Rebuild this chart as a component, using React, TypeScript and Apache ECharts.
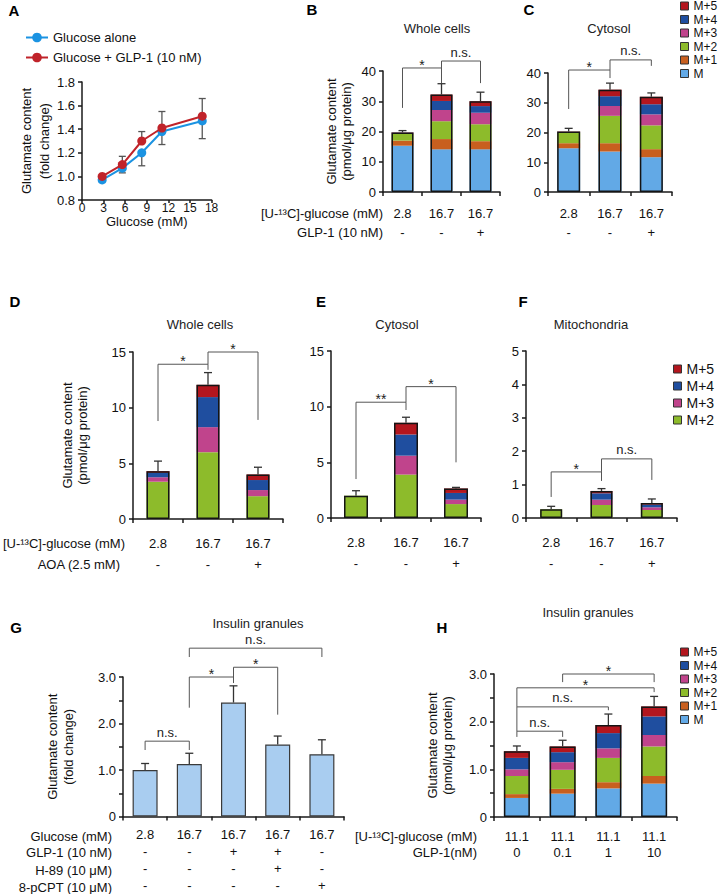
import React, { useEffect, useRef } from 'react';
import * as echarts from 'echarts';

const FONT = '"Liberation Sans", Arial, Helvetica, sans-serif';

const ISO_NAMES = ['M', 'M+1', 'M+2', 'M+3', 'M+4', 'M+5'];
const ISO_COLORS = ['#62a9e6', '#c85f1f', '#8dbb2b', '#c0448c', '#1f4e9f', '#b3161e'];

// ---------- Panel A ----------
const A_GLUCOSE = [2.8, 5.6, 8.3, 11.1, 16.7];
const A_ALONE = [0.97, 1.07, 1.2, 1.38, 1.47];
const A_ALONE_ERR = [0, 0.04, 0.11, 0.11, 0.15];
const A_GLP = [1.0, 1.1, 1.3, 1.41, 1.51];
const A_GLP_ERR = [0, 0.07, 0.08, 0.14, 0.15];

// ---------- Panels B, C ----------
const BC_GLUCOSE = ['2.8', '16.7', '16.7'];
const BC_GLP1 = ['-', '-', '+'];

const B_M = [15.3, 14.1, 14.1];
const B_M1 = [1.7, 3.4, 2.7];
const B_M2 = [2.2, 5.9, 5.6];
const B_M3 = [0.3, 3.7, 3.8];
const B_M4 = [0.1, 3.0, 2.2];
const B_M5 = [0.1, 2.1, 1.6];
const B_ERR = [0.6, 3.6, 3.0];
const B_BRACKETS = [[0, 1, 41.0, 27.8, 36.0, '*'], [1, 2, 43.3, 41.0, 36.0, 'n.s.']];

const C_M = [14.7, 13.6, 11.7];
const C_M1 = [1.7, 2.8, 2.7];
const C_M2 = [3.6, 9.2, 8.0];
const C_M3 = [0.1, 3.3, 3.7];
const C_M4 = [0.1, 3.3, 3.4];
const C_M5 = [0.1, 2.2, 2.5];
const C_ERR = [1.1, 2.2, 1.3];
const C_BRACKETS = [[0, 1, 41.0, 27.9, 38.3, '*'], [1, 2, 44.4, 41.0, 42.4, 'n.s.']];

// ---------- Panels D, E, F ----------
const DEF_GLUCOSE = ['2.8', '16.7', '16.7'];
const DEF_AOA = ['-', '-', '+'];

const D_M2 = [3.35, 6.0, 2.05];
const D_M3 = [0.4, 2.25, 0.55];
const D_M4 = [0.4, 2.7, 0.9];
const D_M5 = [0.15, 1.1, 0.5];
const D_ERR = [0.9, 1.1, 0.65];
const D_BRACKETS = [[0, 1, 13.9, 8.8, 13.4, '*'], [1, 2, 15.0, 13.9, 8.9, '*']];

const E_M2 = [2.0, 3.9, 1.25];
const E_M3 = [0, 1.7, 0.4];
const E_M4 = [0, 1.9, 0.6];
const E_M5 = [0, 1.05, 0.4];
const E_ERR = [0.45, 0.5, 0.1];
const E_BRACKETS = [[0, 1, 10.4, 3.5, 9.7, '**'], [1, 2, 11.8, 10.4, 5.0, '*']];

const F_M2 = [0.26, 0.39, 0.24];
const F_M3 = [0, 0.16, 0.08];
const F_M4 = [0, 0.19, 0.08];
const F_M5 = [0, 0.07, 0.05];
const F_ERR = [0.09, 0.07, 0.12];
const F_BRACKETS = [[0, 1, 1.38, 0.63, 1.11, '*'], [1, 2, 1.77, 1.38, 1.14, 'n.s.']];

// ---------- Panel G ----------
const G_GLUCOSE = ['2.8', '16.7', '16.7', '16.7', '16.7'];
const G_GLP1 = ['-', '-', '+', '+', '-'];
const G_H89 = ['-', '-', '-', '+', '-'];
const G_PCPT = ['-', '-', '-', '-', '+'];
const G_VALUES = [1.0, 1.13, 2.45, 1.55, 1.34];
const G_ERR = [0.14, 0.23, 0.36, 0.18, 0.31];
const G_BRACKETS = [
  [0, 1, 1.62, 1.43, 1.43, 'n.s.'],
  [1, 2, 3.0, 2.34, 2.87, '*'],
  [2, 3, 3.21, 3.0, 2.19, '*'],
  [1, 4, 3.62, 3.43, 3.43, 'n.s.'],
];

// ---------- Panel H ----------
const H_GLUCOSE = ['11.1', '11.1', '11.1', '11.1'];
const H_GLP1 = ['0', '0.1', '1', '10'];
const H_M = [0.40, 0.49, 0.60, 0.70];
const H_M1 = [0.08, 0.10, 0.13, 0.16];
const H_M2 = [0.38, 0.40, 0.51, 0.62];
const H_M3 = [0.14, 0.16, 0.20, 0.24];
const H_M4 = [0.24, 0.21, 0.32, 0.39];
const H_M5 = [0.14, 0.12, 0.17, 0.21];
const H_ERR = [0.11, 0.13, 0.23, 0.21];
const H_BRACKETS = [
  [0, 1, 1.80, 1.68, 1.68, 'n.s.'],
  [0, 2, 2.31, 1.80, 2.24, 'n.s.'],
  [0, 3, 2.71, 2.31, 2.62, '*'],
  [1, 3, 3.0, 2.83, 2.83, '*'],
];

const AXIS = { color: '#1a1a1a', width: 1.5 };
const TXT = '#111';

const zipRows = (...rows: string[][]) => rows[0].map((_, i) => rows.map((r) => r[i]).join('\n'));

const errorRender = (color: string, cap: number) => (params: any, api: any) => {
  const x = api.value(0);
  const y = api.value(1);
  const e = api.value(2);
  if (!e) return null;
  const p0 = api.coord([x, y]);
  const p1 = api.coord([x, y + e]);
  const st = { stroke: color, lineWidth: 1.3 };
  return {
    type: 'group',
    children: [
      { type: 'line', shape: { x1: p0[0], y1: p0[1], x2: p1[0], y2: p1[1] }, style: st },
      { type: 'line', shape: { x1: p1[0] - cap, y1: p1[1], x2: p1[0] + cap, y2: p1[1] }, style: st },
    ],
  };
};

const bracketRender = (labels: string[]) => (params: any, api: any) => {
  const f = api.value(0);
  const t = api.value(1);
  const top = api.value(2);
  const yl = api.value(3);
  const yr = api.value(4);
  const a = api.coord([f, top]);
  const b = api.coord([t, top]);
  const l = api.coord([f, yl]);
  const r = api.coord([t, yr]);
  const label = labels[params.dataIndex];
  const star = label.indexOf('*') >= 0;
  return {
    type: 'group',
    children: [
      {
        type: 'polyline',
        shape: { points: [l, a, b, r] },
        style: { stroke: '#555', lineWidth: 1, fill: 'none' },
      },
      {
        type: 'text',
        x: (a[0] + b[0]) / 2,
        y: a[1] - (star ? 3 : 9),
        style: {
          text: label,
          align: 'center',
          verticalAlign: 'middle',
          fontSize: star ? 14 : 13,
          fontFamily: FONT,
          fill: '#222',
        },
      },
    ],
  };
};

function bracketSeries(gi: number, brackets: any[]) {
  return {
    type: 'custom',
    xAxisIndex: gi,
    yAxisIndex: gi,
    data: brackets.map((b) => b.slice(0, 5)),
    encode: { x: 0, y: 2 },
    renderItem: bracketRender(brackets.map((b) => b[5])),
    silent: true,
    clip: false,
    z: 5,
  };
}

function stackedSeries(gi: number, segs: number[][], isoStart: number, err: number[], brackets: any[], barWidth: number) {
  const n = segs[0].length;
  const totals = Array.from({ length: n }, (_, i) => segs.reduce((s, a) => s + a[i], 0));
  const out: any[] = segs.map((data, k) => ({
    type: 'bar',
    name: ISO_NAMES[isoStart + k],
    xAxisIndex: gi,
    yAxisIndex: gi,
    stack: 'stack' + gi,
    data,
    barWidth,
    barGap: '-100%',
    itemStyle: { color: ISO_COLORS[isoStart + k] },
    silent: true,
    z: 2,
  }));
  out.push({
    type: 'bar',
    xAxisIndex: gi,
    yAxisIndex: gi,
    data: totals,
    barWidth,
    barGap: '-100%',
    itemStyle: { color: 'rgba(0,0,0,0)', borderColor: '#141414', borderWidth: 1.5 },
    silent: true,
    z: 3,
  });
  out.push({
    type: 'custom',
    xAxisIndex: gi,
    yAxisIndex: gi,
    data: totals.map((t, i) => [i, t, err[i]]),
    encode: { x: 0, y: 1 },
    renderItem: errorRender('#333', 4),
    silent: true,
    z: 4,
  });
  out.push(bracketSeries(gi, brackets));
  return out;
}

const catAxis = (gi: number, data: string[], lineHeight: number, margin: number) => ({
  gridIndex: gi,
  type: 'category',
  data,
  axisLine: { show: true, lineStyle: AXIS },
  axisTick: { show: true, length: 4, lineStyle: AXIS },
  axisLabel: { interval: 0, fontSize: 13, color: TXT, lineHeight, margin, fontFamily: FONT },
  splitLine: { show: false },
});

const valAxis = (gi: number, min: number, max: number, interval: number, extra: any = {}) => ({
  gridIndex: gi,
  type: 'value',
  min,
  max,
  interval,
  axisLine: { show: true, lineStyle: AXIS },
  axisTick: { show: true, length: 4, lineStyle: AXIS },
  axisLabel: { fontSize: 13, color: TXT, margin: 7, fontFamily: FONT },
  splitLine: { show: false },
  ...extra,
});

const yName = (name: string, gap: number, lh: number) => ({
  name,
  nameLocation: 'middle',
  nameRotate: 90,
  nameGap: gap,
  nameTextStyle: { fontSize: 13, lineHeight: lh, color: TXT, fontFamily: FONT },
});

const oneDecimal = (v: number) => (v === 0 ? '0' : Math.abs(v - Math.round(v)) < 1e-9 ? v.toFixed(1) : '');

function buildOption() {
  const grids = [
    { left: 82, top: 82, width: 129.6, height: 118 },
    { left: 383, top: 71, width: 117, height: 121 },
    { left: 548, top: 73, width: 124, height: 119 },
    { left: 133, top: 352, width: 150, height: 167 },
    { left: 331, top: 351, width: 150, height: 167 },
    { left: 526, top: 351, width: 151, height: 167 },
    { left: 123, top: 677, width: 221, height: 141 },
    { left: 494, top: 674, width: 183, height: 143 },
  ];

  const xAxis = [
    {
      gridIndex: 0,
      type: 'value',
      min: 0,
      max: 18,
      interval: 3,
      axisLine: { show: true, lineStyle: AXIS },
      axisTick: { show: true, length: 3, lineStyle: AXIS },
      axisLabel: { fontSize: 12, color: TXT, margin: 2, fontFamily: FONT },
      splitLine: { show: false },
      name: 'Glucose (mM)',
      nameLocation: 'middle',
      nameGap: 14,
      nameTextStyle: { fontSize: 13, color: TXT, fontFamily: FONT },
    },
    catAxis(1, zipRows(BC_GLUCOSE, BC_GLP1), 19, 11.5),
    catAxis(2, zipRows(BC_GLUCOSE, BC_GLP1), 19, 11.5),
    catAxis(3, zipRows(DEF_GLUCOSE, DEF_AOA), 21, 13.5),
    catAxis(4, zipRows(DEF_GLUCOSE, DEF_AOA), 21, 13.5),
    catAxis(5, zipRows(DEF_GLUCOSE, DEF_AOA), 21, 13.5),
    catAxis(6, zipRows(G_GLUCOSE, G_GLP1, G_H89, G_PCPT), 17, 9.5),
    catAxis(7, zipRows(H_GLUCOSE, H_GLP1), 16, 11),
  ];

  const pmol = 'Glutamate content\n(pmol/\u03bcg protein)';
  const fold = 'Glutamate content\n(fold change)';
  const yAxis = [
    valAxis(0, 0.8, 1.8, 0.2, {
      axisLabel: { fontSize: 13, color: TXT, margin: 7, fontFamily: FONT, formatter: (v: number) => v.toFixed(1) },
      ...yName(fold, 25, 18),
    }),
    valAxis(1, 0, 40, 10, yName(pmol, 29, 15)),
    valAxis(2, 0, 40, 10),
    valAxis(3, 0, 15, 5, yName(pmol, 43, 15)),
    valAxis(4, 0, 15, 5),
    valAxis(5, 0, 5, 1),
    valAxis(6, 0, 3, 0.5, {
      axisLabel: { fontSize: 13, color: TXT, margin: 7, fontFamily: FONT, formatter: oneDecimal },
      ...yName(fold, 47, 16),
    }),
    valAxis(7, 0, 3, 0.5, {
      axisLabel: { fontSize: 13, color: TXT, margin: 7, fontFamily: FONT, formatter: oneDecimal },
      ...yName(pmol, 39, 15),
    }),
  ];

  const series: any[] = [];

  // Panel A
  series.push({
    type: 'custom',
    xAxisIndex: 0,
    yAxisIndex: 0,
    data: A_GLUCOSE.map((x, i) => [x, A_ALONE[i], -A_ALONE_ERR[i]]),
    encode: { x: 0, y: 1 },
    renderItem: errorRender('#555', 3.5),
    silent: true,
    z: 1,
  });
  series.push({
    type: 'custom',
    xAxisIndex: 0,
    yAxisIndex: 0,
    data: A_GLUCOSE.map((x, i) => [x, A_GLP[i], A_GLP_ERR[i]]),
    encode: { x: 0, y: 1 },
    renderItem: errorRender('#555', 3.5),
    silent: true,
    z: 1,
  });
  series.push({
    type: 'line',
    name: 'Glucose alone',
    xAxisIndex: 0,
    yAxisIndex: 0,
    data: A_GLUCOSE.map((x, i) => [x, A_ALONE[i]]),
    symbol: 'circle',
    symbolSize: 9,
    lineStyle: { color: '#1b93e2', width: 2 },
    itemStyle: { color: '#1b93e2' },
    z: 3,
  });
  series.push({
    type: 'line',
    name: 'Glucose + GLP-1 (10 nM)',
    xAxisIndex: 0,
    yAxisIndex: 0,
    data: A_GLUCOSE.map((x, i) => [x, A_GLP[i]]),
    symbol: 'circle',
    symbolSize: 9,
    lineStyle: { color: '#c0232a', width: 2 },
    itemStyle: { color: '#c0232a' },
    z: 4,
  });

  series.push(...stackedSeries(1, [B_M, B_M1, B_M2, B_M3, B_M4, B_M5], 0, B_ERR, B_BRACKETS, 22));
  series.push(...stackedSeries(2, [C_M, C_M1, C_M2, C_M3, C_M4, C_M5], 0, C_ERR, C_BRACKETS, 23));
  series.push(...stackedSeries(3, [D_M2, D_M3, D_M4, D_M5], 2, D_ERR, D_BRACKETS, 23));
  series.push(...stackedSeries(4, [E_M2, E_M3, E_M4, E_M5], 2, E_ERR, E_BRACKETS, 24));
  series.push(...stackedSeries(5, [F_M2, F_M3, F_M4, F_M5], 2, F_ERR, F_BRACKETS, 22));

  // Panel G
  series.push({
    type: 'bar',
    xAxisIndex: 6,
    yAxisIndex: 6,
    data: G_VALUES,
    barWidth: 25,
    itemStyle: { color: '#a9cdf0', borderColor: '#3a3a3a', borderWidth: 1.2 },
    silent: true,
    z: 2,
  });
  series.push({
    type: 'custom',
    xAxisIndex: 6,
    yAxisIndex: 6,
    data: G_VALUES.map((v, i) => [i, v, G_ERR[i]]),
    encode: { x: 0, y: 1 },
    renderItem: errorRender('#333', 4),
    silent: true,
    z: 4,
  });
  series.push(bracketSeries(6, G_BRACKETS));

  series.push(...stackedSeries(7, [H_M, H_M1, H_M2, H_M3, H_M4, H_M5], 0, H_ERR, H_BRACKETS, 26));

  const isoLegend = (names: string[], left: number, top: number, fs: number, gap: number) => ({
    left,
    top,
    orient: 'vertical',
    data: names,
    icon: 'rect',
    itemWidth: 8,
    itemHeight: 8,
    itemGap: gap,
    selectedMode: false,
    padding: 0,
    itemStyle: { borderColor: '#333', borderWidth: 1 },
    textStyle: { fontSize: fs, color: TXT, fontFamily: FONT },
  });

  const legend = [
    {
      left: 25,
      top: 31,
      orient: 'vertical',
      data: ['Glucose alone', 'Glucose + GLP-1 (10 nM)'],
      itemWidth: 22,
      itemHeight: 12,
      itemGap: 7,
      padding: 0,
      selectedMode: false,
      textStyle: { fontSize: 13, color: TXT, fontFamily: FONT },
    },
    isoLegend(['M+5', 'M+4', 'M+3', 'M+2', 'M+1', 'M'], 680, 0, 12, 1.5),
    isoLegend(['M+5', 'M+4', 'M+3', 'M+2'], 673, 362, 14, 3),
    isoLegend(['M+5', 'M+4', 'M+3', 'M+2', 'M+1', 'M'], 680, 646, 12, 1.5),
  ];

  const letters: [string, number, number][] = [
    ['A', 14, 10], ['B', 312, 9], ['C', 529, 9], ['D', 15, 301],
    ['E', 321, 301], ['F', 523, 301], ['G', 16, 627], ['H', 442, 627],
  ];
  const titles: [string, number, number][] = [
    ['Whole cells', 437, 28], ['Cytosol', 609, 28], ['Whole cells', 200, 324],
    ['Cytosol', 397, 324], ['Mitochondria', 591, 324],
    ['Insulin granules', 258, 623], ['Insulin granules', 588, 612],
  ];
  const rowHeads: [string, number, number][] = [
    ['[U-\u00b9\u00b3C]-glucose (mM)', 383, 213], ['GLP-1 (10 nM)', 383, 232],
    ['[U-\u00b9\u00b3C]-glucose (mM)', 125, 543], ['AOA (2.5 mM)', 120, 564],
    ['Glucose (mM)', 112, 836], ['GLP-1 (10 nM)', 112, 852],
    ['H-89 (10 \u03bcM)', 112, 870], ['8-pCPT (10 \u03bcM)', 112, 887],
    ['[U-\u00b9\u00b3C]-glucose (mM)', 477, 836], ['GLP-1(nM)', 477, 852],
  ];

  const graphic: any[] = [];
  letters.forEach(([t, x, y]) =>
    graphic.push({
      type: 'text', x, y, silent: true,
      style: { text: t, align: 'center', verticalAlign: 'middle', fontSize: 15, fontWeight: 'bold', fontFamily: FONT, fill: '#000' },
    })
  );
  titles.forEach(([t, x, y]) =>
    graphic.push({
      type: 'text', x, y, silent: true,
      style: { text: t, align: 'center', verticalAlign: 'middle', fontSize: 13, fontFamily: FONT, fill: '#222' },
    })
  );
  rowHeads.forEach(([t, x, y]) =>
    graphic.push({
      type: 'text', x, y, silent: true,
      style: { text: t, align: 'right', verticalAlign: 'middle', fontSize: 13, fontFamily: FONT, fill: TXT },
    })
  );

  return {
    animation: false,
    backgroundColor: '#ffffff',
    textStyle: { fontFamily: FONT, color: TXT },
    grid: grids,
    xAxis,
    yAxis,
    legend,
    series,
    graphic: { elements: graphic },
  };
}

export default function App() {
  const ref = useRef<HTMLDivElement>(null);
  useEffect(() => {
    if (!ref.current) return;
    const chart = echarts.init(ref.current, null, { renderer: 'svg' });
    chart.setOption(buildOption() as any);
    return () => chart.dispose();
  }, []);
  return (
    <div
      ref={ref}
      style={{ position: 'absolute', left: 0, top: 0, width: 720, height: 894, background: '#fff' }}
    />
  );
}
